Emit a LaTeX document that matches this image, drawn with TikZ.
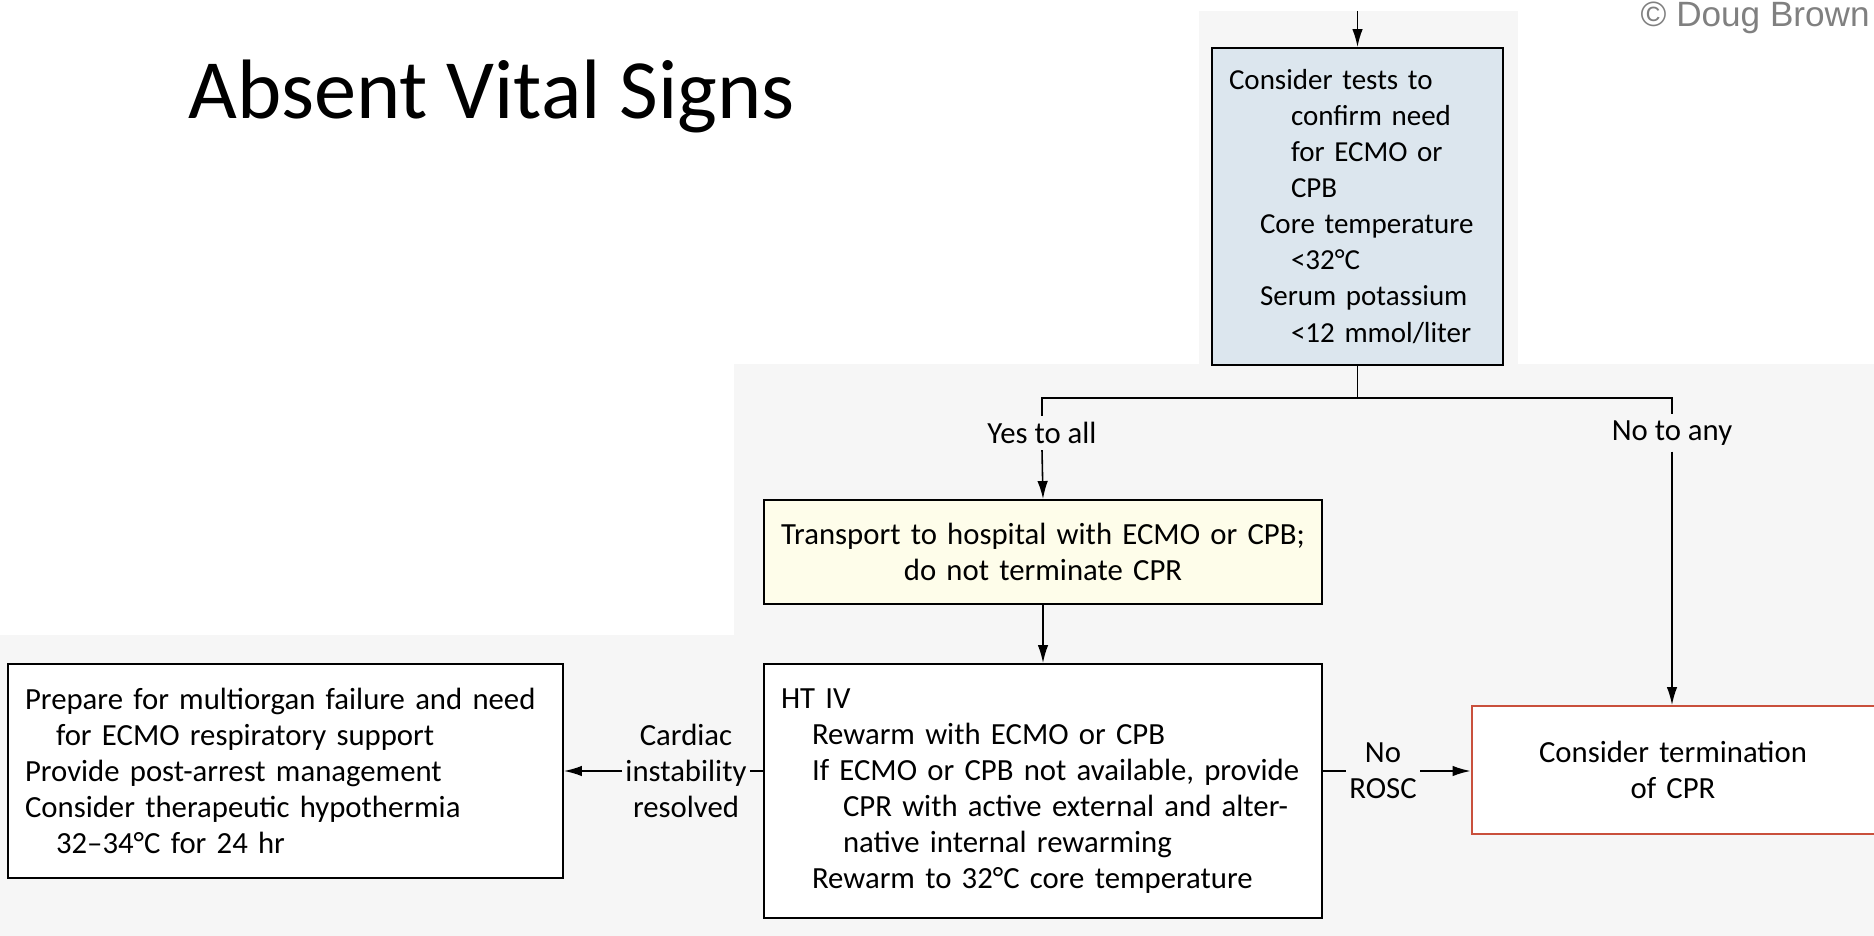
\documentclass[tikz,border=0pt]{standalone}
\usepackage{fontspec}
\setmainfont{Carlito}
\newfontfamily\creditfont{Liberation Sans}
\usetikzlibrary{arrows.meta}

\definecolor{panelgray}{HTML}{F6F6F6}
\definecolor{testblue}{HTML}{DCE6EE}
\definecolor{noteyellow}{HTML}{FEFDEA}
\definecolor{stopred}{HTML}{C9503C}

\newcommand{\boxfont}{\fontsize{17.5}{20.5}\selectfont}
\newcommand{\ind}[1]{\hspace*{#1}}

\tikzset{
  box/.style={draw=black, line width=1.1pt, fill=white, rectangle, inner xsep=0.34cm, align=left, font=\boxfont},
  lbl/.style={inner xsep=0.06cm, inner ysep=0.12cm, align=center, font=\boxfont},
  arr/.style={-{Latex[length=0.36cm,width=0.21cm]}, line width=0.9pt},
  link/.style={line width=0.9pt}
}

\begin{document}
\begin{tikzpicture}[x=0.02cm, y=-0.02cm]

\useasboundingbox (0,0) rectangle (1874,936);
\fill[panelgray] (734,364) rectangle (1874,936);
\fill[panelgray] (0,635) rectangle (734,936);
\fill[panelgray] (1199,11) rectangle (1518,364);

\node[anchor=base west, inner sep=0, font=\fontsize{48}{56}\selectfont] (title) at (188,119) {Absent Vital Signs};
\node[anchor=base east, inner sep=0, text=gray, font=\creditfont\fontsize{20}{24}\selectfont] (credit) at (1870,27) {© Doug Brown};

\node[box, fill=testblue, text width=5.14cm, minimum height=6.34cm, font=\fontsize{16.5}{20.5}\selectfont] (tests) at (1357.5,206.5)
  {Consider tests to\\ \ind{1.24cm}confirm need\\ \ind{1.24cm}for ECMO or\\ \ind{1.24cm}CPB\\
   \ind{0.62cm}\mbox{Core temperature}\\ \ind{1.24cm}<32°C\\ \ind{0.62cm}\mbox{Serum potassium}\\ \ind{1.24cm}<12 mmol/liter};

\node[lbl] (yes) at (1042,433) {Yes to all};
\node[lbl] (noany) at (1672,433) {No to any};

\node[box, fill=noteyellow, align=center, text width=10.48cm, minimum height=2.08cm] (transport) at (1043,552)
  {Transport to hospital with ECMO or CPB;\\ do not terminate CPR};

\node[box, text width=10.48cm, minimum height=5.08cm] (htiv) at (1043,791)
  {HT IV\\ \ind{0.62cm}Rewarm with ECMO or CPB\\ \ind{0.62cm}If ECMO or CPB not available, provide\\
   \ind{1.24cm}CPR with active external and alter-\\ \ind{1.24cm}native internal rewarming\\
   \ind{0.62cm}Rewarm to 32°C core temperature};

\node[box, text width=10.42cm, minimum height=4.28cm] (prepare) at (285.5,771)
  {Prepare for multiorgan failure and need\\ \ind{0.62cm}for ECMO respiratory support\\
   Provide post-arrest management\\ Consider therapeutic hypothermia\\ \ind{0.62cm}32--34°C for 24 hr};

\node[box, draw=stopred, align=center, text width=7.38cm, minimum height=2.56cm] (terminate) at (1673,770)
  {Consider termination\\ of CPR};

\node[lbl] (cardiac) at (686,771) {Cardiac\\ instability\\ resolved};
\node[lbl] (rosc) at (1383,771) {No\\ ROSC};

\coordinate (entry) at (1357.5,11);
\coordinate (split) at (1357.5,398);

\draw[arr] (entry) -- (tests.north);
\draw[link] (tests.south) -- (split);
\draw[link] (yes.north) |- (split) -| (noany.north);
\draw[arr] (yes.south) -- (transport.north);
\draw[arr] (noany.south) -- (noany.south |- terminate.north);
\draw[arr] (transport.south) -- (htiv.north);

\draw[link] (cardiac.east -| htiv.west) -- (cardiac.east);
\draw[arr] (cardiac.west) -- (prepare.east);
\draw[link] (rosc.west -| htiv.east) -- (rosc.west);
\draw[arr] (rosc.east) -- (rosc.east -| terminate.west);

\end{tikzpicture}
\end{document}
